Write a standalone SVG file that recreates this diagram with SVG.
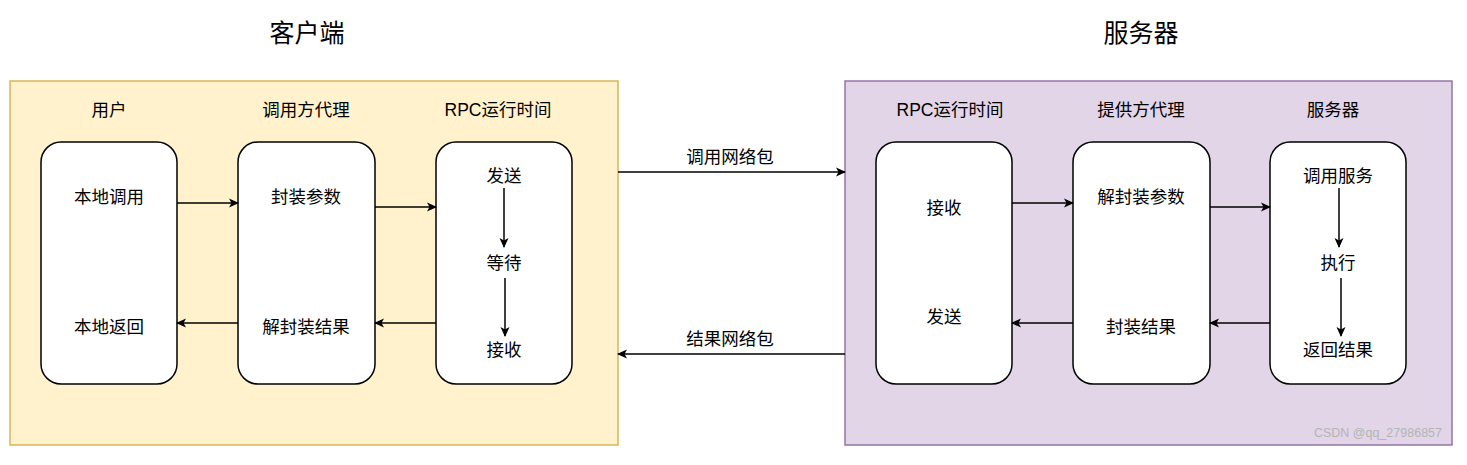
<svg xmlns="http://www.w3.org/2000/svg" width="1467" height="465" viewBox="0 0 1467 465">
<defs>
<marker id="ah" markerWidth="12" markerHeight="12" refX="10" refY="6" orient="auto" markerUnits="userSpaceOnUse">
<path d="M1,1.5 L11,6 L1,10.5 L3.5,6 Z" fill="#000"/>
</marker>
<style>
text{font-family:"Liberation Sans","Noto Sans CJK SC",sans-serif;fill:#000;text-anchor:middle}
.t{font-size:25px}
.h{font-size:17.5px}
.l{font-size:17.5px}
.box{fill:#fff;stroke:#000;stroke-width:1.5}
.c{stroke:#000;stroke-width:1.5;fill:none;marker-end:url(#ah)}
</style>
</defs>
<rect width="1467" height="465" fill="#fff"/>
<g id="client">
<rect x="10" y="81" width="608" height="364" fill="#fff2cc" stroke="#d6b656" stroke-width="1.5"/>
<text class="t" x="307" y="42">客户端</text>
<text class="h" x="109" y="116">用户</text>
<text class="h" x="306" y="116">调用方代理</text>
<text class="h" x="498" y="116">RPC运行时间</text>
</g>
<g id="server">
<rect x="845" y="81" width="607" height="364" fill="#e1d5e7" stroke="#9673a6" stroke-width="1.5"/>
<text class="t" x="1141" y="42">服务器</text>
<text class="h" x="950" y="116">RPC运行时间</text>
<text class="h" x="1141" y="116">提供方代理</text>
<text class="h" x="1333" y="116">服务器</text>
</g>
<g id="user">
<rect class="box" x="41" y="142" width="136" height="242" rx="20"/>
<text class="l" x="109" y="203">本地调用</text>
<text class="l" x="109" y="333">本地返回</text>
</g>
<g id="caller-proxy">
<rect class="box" x="238" y="142" width="137" height="242" rx="20"/>
<text class="l" x="306" y="203">封装参数</text>
<text class="l" x="306" y="333">解封装结果</text>
</g>
<g id="client-rpc">
<rect class="box" x="436" y="142" width="136" height="242" rx="20"/>
<text class="l" x="504" y="182">发送</text>
<text class="l" x="504" y="269">等待</text>
<text class="l" x="504" y="356">接收</text>
</g>
<g id="server-rpc">
<rect class="box" x="876" y="142" width="136" height="242" rx="20"/>
<text class="l" x="944" y="214">接收</text>
<text class="l" x="944" y="323">发送</text>
</g>
<g id="provider-proxy">
<rect class="box" x="1073" y="142" width="137" height="242" rx="20"/>
<text class="l" x="1141" y="203">解封装参数</text>
<text class="l" x="1141" y="333">封装结果</text>
</g>
<g id="service">
<rect class="box" x="1270" y="142" width="136" height="242" rx="20"/>
<text class="l" x="1338" y="182">调用服务</text>
<text class="l" x="1338" y="269">执行</text>
<text class="l" x="1338" y="356">返回结果</text>
</g>
<g id="connectors">
<line class="c" x1="177" y1="203" x2="238" y2="203"/>
<line class="c" x1="375" y1="207" x2="436" y2="207"/>
<line class="c" x1="436" y1="323" x2="375" y2="323"/>
<line class="c" x1="238" y1="323" x2="177" y2="323"/>
<line class="c" x1="504" y1="188" x2="504" y2="247"/>
<line class="c" x1="505" y1="278" x2="505" y2="336"/>
<line class="c" x1="618" y1="172" x2="845" y2="172"/>
<line class="c" x1="845" y1="354" x2="618" y2="354"/>
<text class="l" x="730" y="163">调用网络包</text>
<text class="l" x="730" y="345">结果网络包</text>
<line class="c" x1="1012" y1="203" x2="1073" y2="203"/>
<line class="c" x1="1210" y1="207" x2="1270" y2="207"/>
<line class="c" x1="1270" y1="323" x2="1210" y2="323"/>
<line class="c" x1="1073" y1="323" x2="1012" y2="323"/>
<line class="c" x1="1339" y1="188" x2="1339" y2="247"/>
<line class="c" x1="1341" y1="278" x2="1341" y2="336"/>
</g>
<text x="1442" y="437" style="font-size:12.5px;text-anchor:end;fill:#b4b4b4">CSDN @qq_27986857</text>
</svg>
